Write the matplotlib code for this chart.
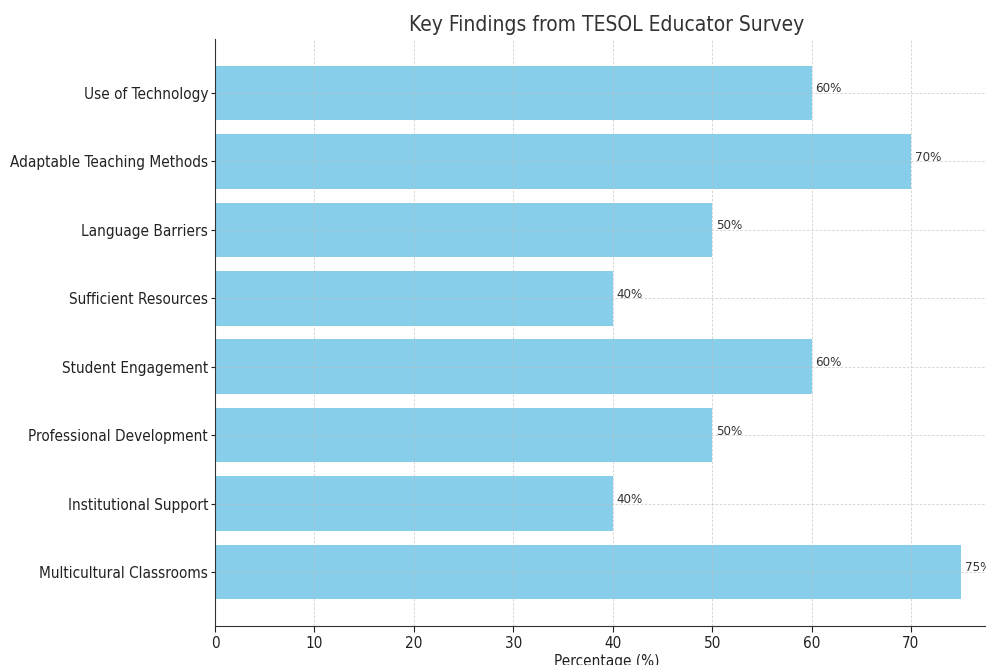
import matplotlib.pyplot as plt

# condensed DejaVu looks closest to the reference
plt.rcParams['font.family'] = ['DejaVu Sans']
plt.rcParams['font.stretch'] = 'condensed'

categories = ['Multicultural Classrooms', 'Institutional Support', 'Professional Development',
              'Student Engagement', 'Sufficient Resources', 'Language Barriers',
              'Adaptable Teaching Methods', 'Use of Technology']
values = [75, 40, 50, 60, 40, 50, 70, 60]

fig = plt.figure(figsize=(9.87, 6.65), dpi=100)
ax = fig.add_axes([215/987, 39/665, 783/987, 587/665])

bars = ax.barh(categories, values, color='skyblue', height=0.8)
ax.grid(True, linestyle='--', color='#bbbbbb', linewidth=0.6, alpha=0.7, dashes=(3, 2))

for b, v in zip(bars, values):
    ax.text(v + 0.4, b.get_y() + b.get_height()/2 + 0.06, f'{v}%', va='center', ha='left',
            fontsize=9.5, color='#333333')

ax.set_title('Key Findings from TESOL Educator Survey', fontsize=15, color='#333333')
ax.set_xlabel('Percentage (%)', fontsize=11, color='#222222', labelpad=2)
ax.tick_params(axis='y', labelsize=11, colors='#222222', length=3, pad=2)
ax.tick_params(axis='x', labelsize=11, colors='#222222', length=4)
for s in ['left', 'bottom']:
    ax.spines[s].set_color('#333333')
ax.spines['top'].set_visible(False)
ax.spines['right'].set_visible(False)

fig.savefig('out.png', dpi=100)
